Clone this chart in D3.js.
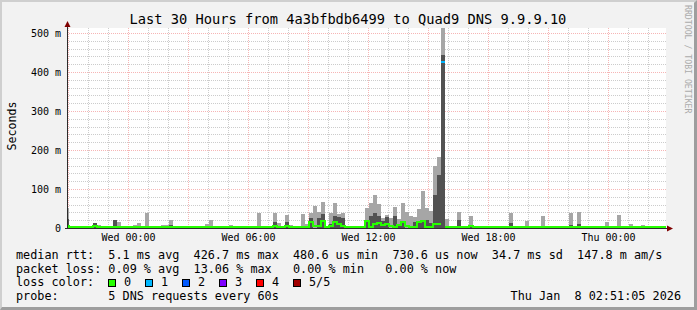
<!DOCTYPE html>
<html>
<head>
<meta charset="utf-8">
<script src="https://cdn.jsdelivr.net/npm/d3@7"></script>
<style>
body { margin: 0; background: #f2f2f2; }
text { font-family: 'DejaVu Sans Mono', monospace; white-space: pre; }
</style>
</head>
<body>
<div id="graphics"></div>
<script>
// smoke top (max ping) per 12 minute step, ms
const maxMs = [
  52, 5, 5, 2, 2, 5, 2, 13, 8, 2,
  5, 2, 20, 16, 5, 2, 2, 8, 13, 2,
  39, 2, 2, 2, 8, 8, 20, 2, 5, 2,
  5, 2, 2, 2, 5, 10, 21, 2, 2, 5,
  2, 8, 2, 2, 2, 2, 2, 2, 38, 2,
  2, 2, 39, 12, 5, 33, 8, 5, 2, 36,
  10, 39, 56, 41, 67, 5, 39, 65, 36, 38,
  5, 5, 2, 5, 5, 51, 64, 85, 61, 26,
  33, 26, 53, 23, 65, 42, 31, 27, 48, 95,
  50, 43, 159, 183, 513, 22, 5, 2, 42, 2,
  2, 31, 5, 3, 3, 3, 3, 3, 2, 2,
  2, 38, 5, 2, 2, 19, 5, 2, 2, 32,
  5, 5, 2, 2, 2, 3, 38, 2, 42, 3,
  2, 2, 2, 3, 2, 16, 2, 2, 33, 2,
  2, 10, 2, 2, 8, 2, 2, 2, 2, 2, 2
];
// dense (dark) part of the smoke, ms
const darkMs = [
  22, 0, 0, 0, 0, 0, 0, 12, 0, 0,
  0, 0, 20, 0, 0, 0, 0, 0, 0, 0,
  4, 0, 0, 0, 0, 0, 8, 0, 0, 0,
  0, 0, 0, 0, 0, 0, 0, 0, 0, 0,
  0, 0, 0, 0, 0, 0, 0, 0, 6, 0,
  0, 0, 15, 6, 0, 15, 5, 0, 0, 0,
  0, 25, 0, 26, 36, 0, 10, 30, 29, 26,
  0, 0, 0, 0, 0, 20, 31, 39, 31, 19,
  28, 0, 31, 8, 16, 0, 0, 16, 16, 20,
  20, 12, 85, 136, 443, 0, 0, 0, 20, 0,
  0, 3, 0, 0, 0, 0, 0, 0, 0, 0,
  0, 14, 0, 0, 0, 3, 0, 0, 0, 0,
  0, 0, 0, 0, 0, 0, 8, 0, 10, 0,
  0, 0, 0, 0, 0, 0, 0, 0, 0, 0,
  0, 0, 0, 0, 0, 0, 0, 0, 0, 0, 0
];
// median rtt, ms
const medMs = [
  5, 2.5, 2.5, 2.5, 2.5, 2.5, 2.5, 5, 2.5, 2.5,
  2.5, 2.5, 2.5, 2.5, 2.5, 2.5, 2.5, 2.5, 2.5, 2.5,
  2.5, 2.5, 2.5, 2.5, 2.5, 2.5, 2.5, 2.5, 2.5, 2.5,
  2.5, 2.5, 2.5, 2.5, 2.5, 2.5, 2.5, 2.5, 2.5, 2.5,
  2.5, 2.5, 2.5, 2.5, 2.5, 2.5, 2.5, 2.5, 2.5, 2.5,
  2.5, 2.5, 5, 2.5, 2.5, 6, 2.5, 2.5, 2.5, 2.5,
  2.5, 16, 4, 4, 17, 2.5, 4, 16, 9, 4,
  2.5, 2.5, 2.5, 2.5, 2.5, 18, 3, 9, 12, 8,
  10, 4, 3, 8, 16, 6, 3, 3, 16, 19,
  3, 3, 10, 10, 426.7, 3, 2.5, 2.5, 3, 2.5,
  2.5, 4, 2.5, 2.5, 2.5, 2.5, 2.5, 2.5, 2.5, 2.5,
  2.5, 2.5, 2.5, 2.5, 2.5, 2.5, 2.5, 2.5, 2.5, 2.5,
  2.5, 2.5, 2.5, 2.5, 2.5, 2.5, 2.5, 2.5, 2.5, 2.5,
  2.5, 2.5, 2.5, 2.5, 2.5, 2.5, 2.5, 2.5, 2.5, 2.5,
  2.5, 2.5, 2.5, 2.5, 2.5, 2.5, 2.5, 2.5, 2.5, 2.5, 2.5
];
// lost pings (of 5) per step
const lossN = [
  0, 0, 0, 0, 0, 0, 0, 0, 0, 0,
  0, 0, 0, 0, 0, 0, 0, 0, 0, 0,
  0, 0, 0, 0, 0, 0, 0, 0, 0, 0,
  0, 0, 0, 0, 0, 0, 0, 0, 0, 0,
  0, 0, 0, 0, 0, 0, 0, 0, 0, 0,
  0, 0, 0, 0, 0, 0, 0, 0, 0, 0,
  0, 0, 0, 0, 0, 0, 0, 0, 0, 0,
  0, 0, 0, 0, 0, 0, 0, 0, 0, 0,
  0, 0, 0, 0, 0, 0, 0, 0, 0, 0,
  0, 0, 0, 0, 1, 0, 0, 0, 0, 0,
  0, 0, 0, 0, 0, 0, 0, 0, 0, 0,
  0, 0, 0, 0, 0, 0, 0, 0, 0, 0,
  0, 0, 0, 0, 0, 0, 0, 0, 0, 0,
  0, 0, 0, 0, 0, 0, 0, 0, 0, 0,
  0, 0, 0, 0, 0, 0, 0, 0, 0, 0, 0
];

const lossLabels = ['0', '1', '2', '3', '4', '5/5'];
const lossColors = ['#26ff00', '#00b8ff', '#0059ff', '#7e00ff', '#ff0000', '#a10000'];
const yTickLabels = ['0', '100 m', '200 m', '300 m', '400 m', '500 m'];
const yTickValues = [0, 100, 200, 300, 400, 500];

const titleText = 'Last 30 Hours from 4a3bfbdb6499 to Quad9 DNS 9.9.9.10';
const legendLines = [
  'median rtt:  5.1 ms avg  426.7 ms max  480.6 us min  730.6 us now  34.7 ms sd  147.8 m am/s',
  'packet loss: 0.09 % avg  13.06 % max   0.00 % min   0.00 % now',
  'loss color:',
  'probe:       5 DNS requests every 60s'
];
const stampText = 'Thu Jan  8 02:51:05 2026';

const W = 697, H = 310;
const plot = { left: 67, right: 666, top: 28, bottom: 228 };

const svg = d3.select('#graphics').append('svg')
  .attr('width', W).attr('height', H);

// frame
svg.append('rect').attr('width', W).attr('height', H).attr('fill', '#9e9e9e');
svg.append('path').attr('d', `M0,0H${W}L${W - 3},3H2V${H - 3}L0,${H}Z`).attr('fill', '#cfcfcf');
svg.append('rect').attr('x', 2).attr('y', 2).attr('width', W - 5).attr('height', H - 5).attr('fill', '#f2f2f2');
svg.append('rect').attr('x', plot.left).attr('y', plot.top)
  .attr('width', plot.right - plot.left).attr('height', plot.bottom - plot.top).attr('fill', '#fff');

// scales
const t0 = new Date(2026, 0, 6, 20, 50);
const t1 = new Date(2026, 0, 8, 2, 50);
const x = d3.scaleTime().domain([t0, t1]).range([65.5, 665.5]);
const y = d3.scaleLinear().domain([0, 512.8]).range([plot.bottom, plot.top]);

const barStart = new Date(2026, 0, 6, 20, 48);
const bars = maxMs.map((m, i) => ({
  t: d3.timeMinute.offset(barStart, 12 * i),
  t2: d3.timeMinute.offset(barStart, 12 * (i + 1)),
  max: m, dark: darkMs[i], med: medMs[i], loss: lossN[i]
}));

// grid
const minorCol = 'rgba(143,143,143,0.45)';
const majorCol = 'rgba(235,90,90,0.45)';
const grid = svg.append('g');
grid.selectAll('.hmin').data(d3.range(0, 520, 20).filter(v => v % 100 !== 0))
  .join('line')
  .attr('x1', plot.left).attr('x2', plot.right)
  .attr('y1', d => Math.round(y(d)) + 0.5).attr('y2', d => Math.round(y(d)) + 0.5)
  .attr('stroke', minorCol).attr('stroke-dasharray', '1,1');
grid.selectAll('.vmin').data(d3.timeHour.every(1).range(t0, t1).filter(d => d.getHours() % 3 !== 0))
  .join('line')
  .attr('x1', d => Math.floor(x(d)) + 0.5).attr('x2', d => Math.floor(x(d)) + 0.5)
  .attr('y1', plot.top).attr('y2', plot.bottom)
  .attr('stroke', minorCol).attr('stroke-dasharray', '1,1');
grid.selectAll('.hmaj').data(yTickValues)
  .join('line')
  .attr('x1', plot.left).attr('x2', plot.right)
  .attr('y1', d => Math.round(y(d)) + 0.5).attr('y2', d => Math.round(y(d)) + 0.5)
  .attr('stroke', majorCol).attr('stroke-dasharray', '1,1');
grid.selectAll('.vmaj').data(d3.timeHour.every(3).range(t0, t1))
  .join('line')
  .attr('x1', d => Math.floor(x(d)) + 0.5).attr('x2', d => Math.floor(x(d)) + 0.5)
  .attr('y1', plot.top).attr('y2', plot.bottom)
  .attr('stroke', majorCol).attr('stroke-dasharray', '1,1');

// smoke
svg.append('clipPath').attr('id', 'clip').append('rect')
  .attr('x', plot.left).attr('y', plot.top)
  .attr('width', plot.right - plot.left).attr('height', plot.bottom - plot.top);
const g = svg.append('g').attr('clip-path', 'url(#clip)').attr('shape-rendering', 'crispEdges');

g.selectAll('.light').data(bars).join('rect')
  .attr('x', d => x(d.t)).attr('width', d => x(d.t2) - x(d.t))
  .attr('y', d => y(d.max)).attr('height', d => plot.bottom - y(d.max))
  .attr('fill', '#a6a6a6');
g.selectAll('.dark').data(bars.filter(d => d.dark > 0)).join('rect')
  .attr('x', d => x(d.t)).attr('width', d => x(d.t2) - x(d.t))
  .attr('y', d => y(d.dark)).attr('height', d => plot.bottom - y(d.dark))
  .attr('fill', '#525252');

// median line, one step path per loss colour
const medPts = [];
bars.forEach(d => {
  medPts.push({ x: x(d.t), v: d.med, loss: d.loss });
  medPts.push({ x: x(d.t2), v: d.med, loss: d.loss });
});
lossColors.forEach((c, k) => {
  const line = d3.line()
    .defined(p => p.loss === k)
    .x(p => p.x).y(p => y(p.v));
  g.append('path').datum(medPts)
    .attr('d', line).attr('fill', 'none')
    .attr('stroke', c).attr('stroke-width', 2);
});

// axes
svg.append('line').attr('x1', plot.left + 0.5).attr('x2', plot.left + 0.5)
  .attr('y1', 25).attr('y2', plot.bottom + 1).attr('stroke', '#2c2c2c');
svg.append('line').attr('x1', plot.left - 2).attr('x2', 669)
  .attr('y1', plot.bottom + 0.5).attr('y2', plot.bottom + 0.5).attr('stroke', '#2c2c2c');
svg.append('path').attr('d', `M${plot.left + 0.5},21L${plot.left + 3.5},27L${plot.left - 2.5},27Z`).attr('fill', '#7f0000');
svg.append('path').attr('d', `M673,${plot.bottom + 0.5}L667,${plot.bottom - 2.5}L667,${plot.bottom + 3.5}Z`).attr('fill', '#7f0000');

// tick labels
svg.selectAll('.ylab').data(yTickValues).join('text')
  .attr('x', 61).attr('y', d => y(d) + 3.6)
  .attr('text-anchor', 'end').attr('font-size', 10).attr('fill', '#000')
  .text((d, i) => yTickLabels[i]);
const fmt = d3.timeFormat('%a %H:%M');
svg.selectAll('.xlab').data(d3.timeHour.every(6).range(t0, t1)).join('text')
  .attr('x', d => Math.floor(x(d)) + 0.5).attr('y', 241)
  .attr('text-anchor', 'middle').attr('font-size', 10).attr('fill', '#000')
  .text(d => fmt(d));

// titles
svg.append('text').attr('x', 348).attr('y', 23.5).attr('text-anchor', 'middle')
  .attr('font-size', 13.7).text(titleText);
svg.append('text').attr('transform', 'translate(15.5,126) rotate(-90)')
  .attr('text-anchor', 'middle').attr('font-size', 11.6).text('Seconds');
svg.append('text').attr('transform', 'translate(684.5,5) rotate(90)')
  .attr('font-size', 8.2).attr('fill', '#ababab').text('RRDTOOL / TOBI OETIKER');

// legend
const lineY = [258.7, 272.5, 286.3, 300];
svg.selectAll('.leg').data(legendLines).join('text')
  .attr('x', 16).attr('y', (d, i) => lineY[i])
  .attr('font-size', 11.8).text(d => d);
lossLabels.forEach((l, k) => {
  svg.append('rect').attr('x', 108.5 + 37 * k).attr('y', 279.5)
    .attr('width', 7).attr('height', 7)
    .attr('fill', lossColors[k]).attr('stroke', '#000');
  svg.append('text').attr('x', 124 + 37 * k).attr('y', lineY[2])
    .attr('font-size', 11.8).text(l);
});
svg.append('text').attr('x', 681).attr('y', lineY[3]).attr('text-anchor', 'end')
  .attr('font-size', 11.8).text(stampText);
</script>
</body>
</html>
